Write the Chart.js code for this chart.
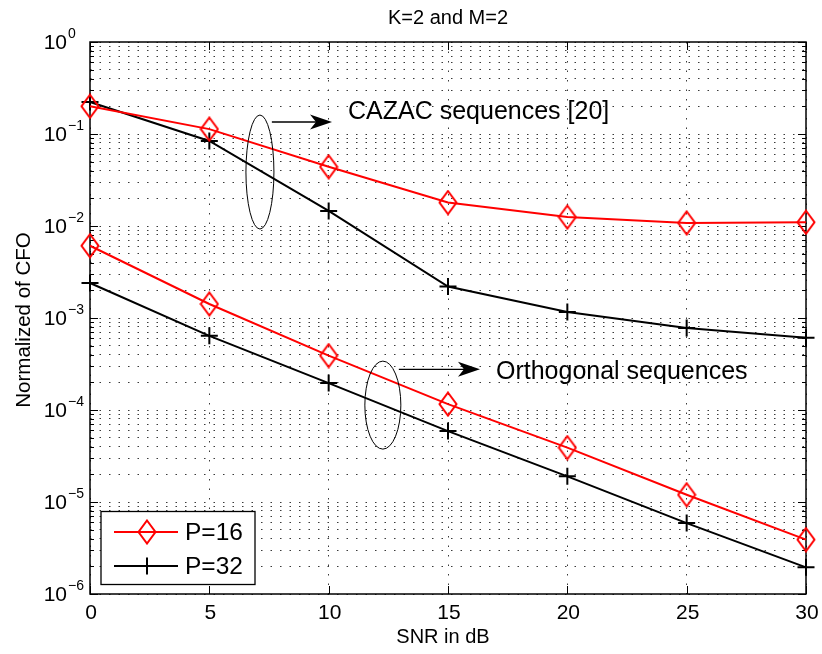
<!DOCTYPE html>
<html>
<head>
<meta charset="utf-8">
<script src="https://cdn.jsdelivr.net/npm/chart.js@4.4.0/dist/chart.umd.min.js"></script>
<style>
html,body{margin:0;padding:0;background:#fff}
#wrap{width:822px;height:654px}
</style>
</head>
<body>
<div id="wrap"><canvas id="c" width="822" height="654"></canvas></div>
<script>
// data (SNR in dB vs normalized CFO)
const snr = [0, 5, 10, 15, 20, 25, 30];
const cazacP16 = [0.20, 0.113, 0.044, 0.018, 0.0125, 0.0108, 0.011];
const cazacP32 = [0.223, 0.084, 0.0146, 0.0022, 0.00116, 0.00078, 0.00061];
const orthP16 = [0.0061, 0.00142, 0.00039, 0.000116, 0.000039, 0.000012, 0.0000039];
const orthP32 = [0.0024, 0.00064, 0.000196, 0.000059, 0.000019, 0.0000059, 0.00000195];
const xTicks = [0, 5, 10, 15, 20, 25, 30];
const yExps = [0, -1, -2, -3, -4, -5, -6];
const seriesNames = ['P=16', 'P=32'];

const FONT = '"Liberation Sans", Arial, Helvetica, sans-serif';
const RED = '#ff0000', BLACK = '#000000';

// MATLAB style diamond: taller than wide
function diamond(){
  const c = document.createElement('canvas'); c.width = 20; c.height = 26;
  const g = c.getContext('2d'); g.strokeStyle = RED; g.lineWidth = 2;
  g.beginPath(); g.moveTo(10,1.5); g.lineTo(18.5,13); g.lineTo(10,24.5); g.lineTo(1.5,13); g.closePath(); g.stroke();
  return c;
}
const diamondImg = diamond();

// every minor/major grid value of the log axis
const yGrid = [];
for (let e = -6; e < 0; e++) for (let m = 1; m <= 9; m++) yGrid.push(m * Math.pow(10, e));
yGrid.push(1);

function mk(arr, color, style, r){
  return { data: snr.map((x,i)=>({x:x, y:arr[i]})), borderColor: color, borderWidth: 2, tension: 0,
    pointStyle: style, pointRadius: r, pointBorderWidth: 2, pointBorderColor: color,
    pointBackgroundColor: 'transparent', clip: false, fill: false };
}

// annotations, in data coordinates
const notes = [
  { ex: 7.12, ey: 0.0386, rx: 14, ry: 57, ax0: 7.62, ax1: 10.14, ay: 0.135, text: 'CAZAC sequences [20]', dy: -10 },
  { ex: 12.27, ey: 1.13e-4, rx: 18, ry: 44, ax0: 12.94, ax1: 16.34, ay: 2.77e-4, text: 'Orthogonal sequences', dy: 3 }
];

function txt(ctx, s, x, y, size, align){
  ctx.font = size + 'px ' + FONT; ctx.textAlign = align || 'center'; ctx.textBaseline = 'middle';
  ctx.fillStyle = '#000'; ctx.fillText(s, x, y);
}

const matlab = {
  id: 'matlab',
  beforeDatasetsDraw(chart){
    const {ctx, chartArea: a, scales: {x, y}} = chart;
    ctx.save();
    ctx.strokeStyle = '#000'; ctx.lineWidth = 1.5;
    ctx.strokeRect(a.left, a.top, a.right - a.left, a.bottom - a.top);
    ctx.lineWidth = 1;
    ctx.beginPath();
    yGrid.forEach(v=>{
      const p = Math.round(y.getPixelForValue(v)) + 0.5;
      const major = Math.abs(Math.log10(v) - Math.round(Math.log10(v))) < 1e-9;
      const L = major ? 8 : 4;
      ctx.moveTo(a.left, p); ctx.lineTo(a.left + L, p);
      ctx.moveTo(a.right, p); ctx.lineTo(a.right - L, p);
    });
    xTicks.forEach(v=>{
      const p = Math.round(x.getPixelForValue(v)) + 0.5;
      ctx.moveTo(p, a.bottom); ctx.lineTo(p, a.bottom - 8);
      ctx.moveTo(p, a.top); ctx.lineTo(p, a.top + 8);
    });
    ctx.stroke();
    // tick labels
    xTicks.forEach(v=> txt(ctx, String(v), x.getPixelForValue(v) + 1, 613, 21, 'center'));
    yExps.forEach(e=>{
      const p = y.getPixelForValue(Math.pow(10, e));
      txt(ctx, '10', 67, p + 1.5, 21, 'right');
      txt(ctx, e === 0 ? '0' : '\u2212' + (-e), 68, p - 8, 14, 'left');
    });
    // titles
    txt(ctx, 'K=2 and M=2', 448, 18, 20, 'center');
    txt(ctx, 'SNR in dB', 443, 637, 20, 'center');
    ctx.save(); ctx.translate(24, 320); ctx.rotate(-Math.PI/2);
    txt(ctx, 'Normalized of CFO', 0, 0, 20.5, 'center');
    ctx.restore();
    ctx.restore();
  },
  afterDatasetsDraw(chart){
    const {ctx, scales: {x, y}} = chart;
    ctx.save();
    ctx.strokeStyle = '#000'; ctx.fillStyle = '#000';
    notes.forEach(n=>{
      const cx = x.getPixelForValue(n.ex), cy = y.getPixelForValue(n.ey);
      ctx.lineWidth = 1;
      ctx.beginPath(); ctx.ellipse(cx, cy, n.rx, n.ry, 0, 0, Math.PI*2); ctx.stroke();
      const x0 = x.getPixelForValue(n.ax0), x1 = x.getPixelForValue(n.ax1), ay = y.getPixelForValue(n.ay);
      ctx.lineWidth = 1.3;
      ctx.beginPath(); ctx.moveTo(x0, ay); ctx.lineTo(x1 - 10, ay); ctx.stroke();
      ctx.beginPath(); ctx.moveTo(x1, ay); ctx.lineTo(x1 - 22, ay - 7.5); ctx.lineTo(x1 - 16, ay);
      ctx.lineTo(x1 - 22, ay + 7.5); ctx.closePath(); ctx.fill();
      txt(ctx, n.text, x1 + 16, ay + n.dy, 25, 'left');
    });
    ctx.restore();
  },
  afterDraw(chart){
    const ctx = chart.ctx;
    ctx.save();
    // legend box
    ctx.fillStyle = '#fff'; ctx.fillRect(101, 511.5, 154, 73);
    ctx.strokeStyle = '#000'; ctx.lineWidth = 1.3; ctx.strokeRect(101, 511.5, 154, 73);
    const rows = [{y: 532, c: RED}, {y: 566, c: BLACK}];
    rows.forEach((r, i)=>{
      ctx.strokeStyle = r.c; ctx.lineWidth = 2;
      ctx.beginPath(); ctx.moveTo(114, r.y); ctx.lineTo(178, r.y); ctx.stroke();
      if (i === 0) ctx.drawImage(diamondImg, 147 - 10, r.y - 13);
      else { ctx.beginPath(); ctx.moveTo(138.5, r.y); ctx.lineTo(155.5, r.y); ctx.moveTo(147, r.y - 8.5); ctx.lineTo(147, r.y + 8.5); ctx.stroke(); }
      txt(ctx, seriesNames[i], 185, r.y + 1, 24.5, 'left');
    });
    ctx.restore();
  }
};

const gridOpts = { color: '#3a3a3a', lineWidth: 1, drawTicks: false };
new Chart(document.getElementById('c'), {
  type: 'line',
  data: { datasets: [
    mk(cazacP16, RED, diamondImg, 9),
    mk(cazacP32, BLACK, 'cross', 8.5),
    mk(orthP16, RED, diamondImg, 9),
    mk(orthP32, BLACK, 'cross', 8.5)
  ]},
  options: {
    responsive: false, animation: false,
    layout: { padding: { top: 42, right: 16, left: 0, bottom: 0 } },
    plugins: { legend: { display: false }, tooltip: { enabled: false } },
    scales: {
      x: { type: 'linear', min: 0, max: 30, ticks: { display: false, stepSize: 5 },
           grid: gridOpts, border: { display: false, dash: [1.5, 8] },
           afterFit: s => { s.height = 60; } },
      y: { type: 'logarithmic', min: 1e-6, max: 1, ticks: { display: false },
           afterBuildTicks: s => { s.ticks = yGrid.map(v => ({ value: v })); },
           grid: gridOpts, border: { display: false, dash: [1.5, 8] },
           afterFit: s => { s.width = 90; } }
    }
  },
  plugins: [matlab]
});
</script>
</body>
</html>
